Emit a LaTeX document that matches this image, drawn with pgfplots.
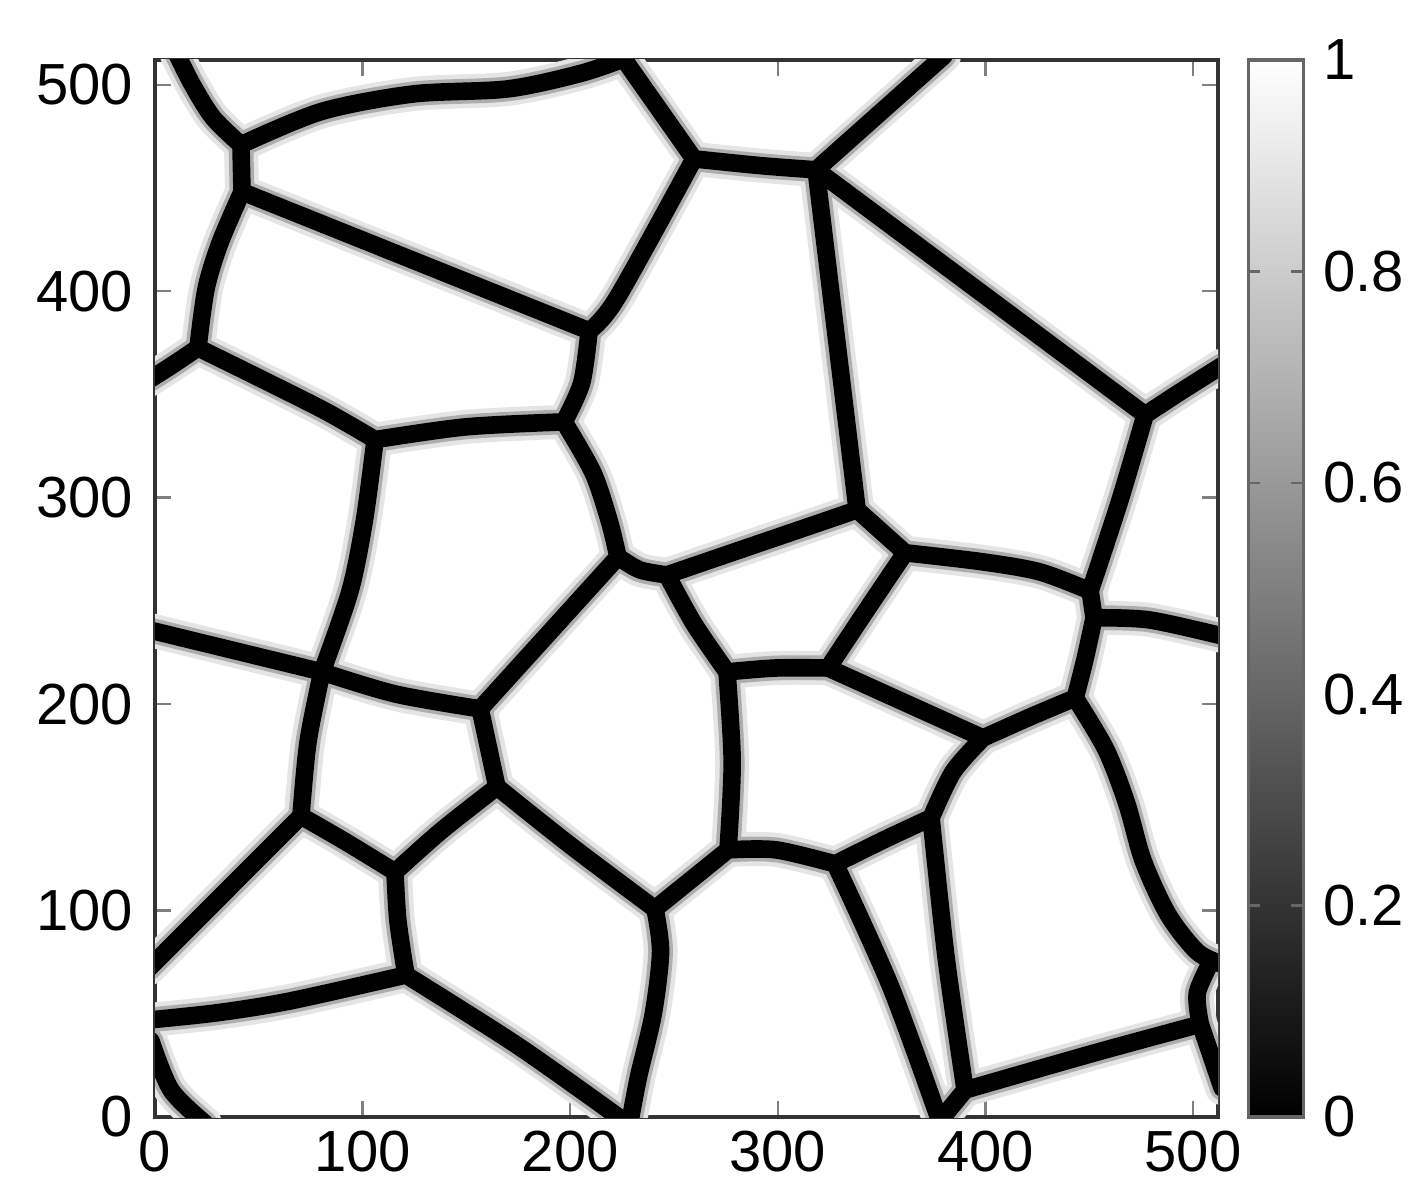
\documentclass[border=0pt]{standalone}
\usepackage{pgfplots}
\pgfplotsset{compat=1.18}
\usepackage{pgfplotstable}
\usepackage{fontspec}
\setmainfont{Liberation Sans}
\pgfplotsset{/pgf/number format/assume math mode=true}

% grain boundaries, one segment per block, blocks split by nan rows
\pgfplotstableread{
x y
10 516
18 500
28 484
41.4 470.9
nan nan
41.4 470.9
41.9 448.2
nan nan
41.4 470.9
80 487
124 495.5
170 498
205 505.5
227 513
nan nan
224 515
259.6 464.1
nan nan
259.6 464.1
291.9 460.8
318.4 458.8
nan nan
380 514
345.4 483
318.4 458.8
nan nan
259.6 464.1
222.4 396.5
209.1 380.8
nan nan
41.9 448.2
209.1 380.8
nan nan
41.9 448.2
31.3 423.4
24.6 401.2
20.7 372.6
nan nan
20.7 372.6
8 364
-3 357
nan nan
20.7 372.6
48.2 359
81.9 342
106 328.1
nan nan
106 328.1
149.8 334.3
197 336.7
nan nan
209.1 380.8
205.5 355.6
197 336.7
nan nan
197 336.7
211 312
219 288
223 271.3
nan nan
223 271.3
233.6 265
246.6 262.6
nan nan
246.6 262.6
338.2 294.1
nan nan
318.4 458.8
338.2 294.1
nan nan
318.4 458.8
476.9 340.1
nan nan
476.9 340.1
495 352
514 364
nan nan
476.9 340.1
464.8 298.9
450.4 254.8
nan nan
338.2 294.1
361.3 273.3
nan nan
361.3 273.3
398.8 268.9
426.3 264
450.4 254.8
nan nan
450.4 254.8
452.3 241.8
nan nan
452.3 241.8
478.8 240.8
514 233
nan nan
452.3 241.8
448 222
443.2 203
nan nan
443.2 203
458 178
468 152
476 124
488 98
502 80
514 74
nan nan
509 76
502 60
503.5 45
nan nan
503.5 45
452.3 31
390.2 13.1
nan nan
503.5 45
514 14
nan nan
373.8 144.9
381 77.5
390.2 13.1
nan nan
390.2 13.1
377 -3
nan nan
327.6 122.6
354.3 63.2
378 -2
nan nan
327.6 122.6
352.4 134.9
373.8 144.9
nan nan
398.8 183.6
384.4 167.2
373.8 144.9
nan nan
398.8 183.6
422 194
443.2 203
nan nan
324.2 217.5
398.8 183.6
nan nan
324.2 217.5
341.8 244.2
361.3 273.3
nan nan
275.5 215.6
299.1 217.5
324.2 217.5
nan nan
246.6 262.6
259.6 238.9
275.5 215.6
nan nan
275.5 215.6
278 172
276 129.4
nan nan
276 129.4
299.1 129.4
327.6 122.6
nan nan
240.8 100.8
276 129.4
nan nan
164.7 159.9
200.4 131.3
240.8 100.8
nan nan
240.8 100.8
243.5 80
240 50
233 20
228.8 -2
nan nan
120.9 68.8
174.9 34.4
226 -2
nan nan
120.9 68.8
65 56.2
30 50.5
-3 47
nan nan
115.6 118.7
117 95
120.9 68.8
nan nan
70.3 145.8
92 133.2
115.6 118.7
nan nan
164.7 159.9
137.8 138.6
115.6 118.7
nan nan
70.3 145.8
-3 72
nan nan
80.4 215.6
73.7 181.7
70.3 145.8
nan nan
106 328.1
101 290
94 255
80.4 215.6
nan nan
-3 236
80.4 215.6
nan nan
80.4 215.6
115.8 204.9
156.6 197.7
nan nan
156.6 197.7
223 271.3
nan nan
156.6 197.7
164.7 159.9
nan nan
-2 37
7.7 13.1
24 -3
}\segs

\begin{document}
\begin{tikzpicture}
\begin{axis}[at={(0,0)},anchor=south west,scale only axis,
 width=265.75pt,height=264.25pt,
 xmin=0,xmax=512,ymin=0,ymax=512,
 xtick={0,100,...,500},ytick={0,100,...,500},
 xtick pos=both,ytick pos=both,xticklabel pos=lower,yticklabel pos=left,
 tick align=inside,major tick length=4pt,
 tick style={black!50,line width=0.6pt},
 axis line style={black!80,line width=1pt},
 ticklabel style={font=\fontsize{14.5}{16}\selectfont},
 yticklabel style={xshift=-2pt},
 unbounded coords=jump,
 point meta min=0,point meta max=1,colormap/blackwhite,
 colorbar,
 colorbar style={at={(parent axis.north east)},anchor=north west,xshift=-1pt,
  scale only axis,width=13.75pt,
  ytick={0,0.2,0.4,0.6,0.8,1},ytick pos=both,yticklabel pos=right,
  tick align=inside,major tick length=3pt,
  tick style={black!60,line width=0.6pt},
  axis line style={black!60,line width=0.8pt},
  yticklabel style={font=\fontsize{14.5}{16}\selectfont,xshift=1.5pt}}]
\addplot[draw=black!10,line width=8.5pt,smooth,line cap=round,line join=round] table {\segs};
\addplot[draw=black!32,line width=6.2pt,smooth,line cap=round,line join=round] table {\segs};
\addplot[draw=black,line width=4.4pt,smooth,line cap=round,line join=round] table {\segs};
\end{axis}
\pgfresetboundingbox
\path[use as bounding box] (-38.75pt,-20.75pt) rectangle (316pt,279.25pt);
\end{tikzpicture}
\end{document}
